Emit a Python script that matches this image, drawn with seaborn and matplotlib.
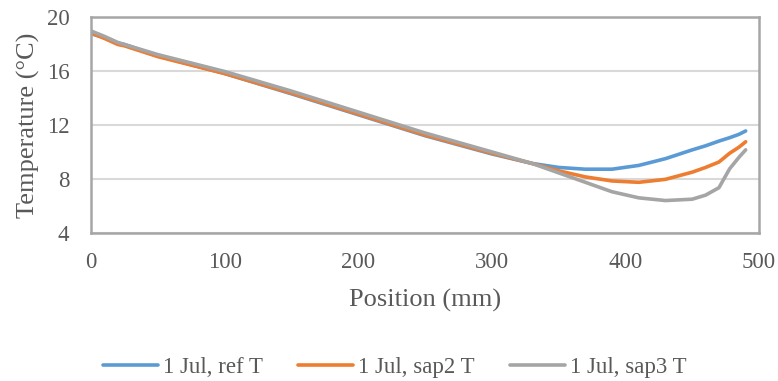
import numpy as np
import pandas as pd
import matplotlib
matplotlib.use("Agg")
import matplotlib.pyplot as plt
import seaborn as sns

position_mm = [0, 10, 20, 25, 50, 100, 150, 200, 250, 300, 330, 350, 370, 390,
               410, 430, 450, 460, 470, 478, 485, 490]
ref_T = [18.75, 18.45, 18.05, 17.95, 17.1, 15.8, 14.3, 12.75, 11.2, 9.85, 9.15,
         8.85, 8.72, 8.72, 9.0, 9.5, 10.15, 10.45, 10.8, 11.05, 11.3, 11.55]
sap2_T = [18.8, 18.4, 17.95, 17.85, 17.05, 15.8, 14.35, 12.8, 11.25, 9.9, 9.15,
          8.6, 8.15, 7.85, 7.75, 7.97, 8.5, 8.85, 9.25, 9.9, 10.35, 10.75]
sap3_T = [18.95, 18.55, 18.1, 17.95, 17.2, 15.95, 14.5, 12.95, 11.4, 10.0, 9.15,
          8.45, 7.75, 7.05, 6.6, 6.4, 6.5, 6.8, 7.35, 8.75, 9.6, 10.15]
series_names = ["1 Jul, ref T", "1 Jul, sap2 T", "1 Jul, sap3 T"]
colors = ["#5B9BD5", "#ED7D31", "#A5A5A5"]
x_ticks = [0, 100, 200, 300, 400, 500]
y_ticks = [4, 8, 12, 16, 20]

df = pd.concat([
    pd.DataFrame({"Position": position_mm, "T": vals, "Series": name})
    for name, vals in zip(series_names, [ref_T, sap2_T, sap3_T])
])

sns.set_style("white")
plt.rcParams["font.family"] = ["Liberation Serif", "DejaVu Serif"]

fig = plt.figure(figsize=(7.78, 3.81), dpi=100)
ax = fig.add_axes([0.117, 0.3885, 0.8586, 0.5675])

sns.lineplot(data=df, x="Position", y="T", hue="Series", palette=colors,
             linewidth=2.6, ax=ax, sort=False)

ax.set_xlim(0, 500)
ax.set_ylim(4, 20)
ax.set_xticks(x_ticks)
ax.set_yticks(y_ticks)
ax.tick_params(axis="x", length=0, labelsize=16.5, colors="#595959", pad=14)
ax.tick_params(axis="y", length=0, labelsize=16.5, colors="#595959", pad=15.5)
ax.yaxis.grid(True, color="#D9D9D9", linewidth=1.5)
ax.xaxis.grid(False)
for s in ax.spines.values():
    s.set_visible(True)
    s.set_color("#A6A6A6")
    s.set_linewidth(1.8)
ax.set_axisbelow(True)

ax.set_xlabel("Position (mm)", fontsize=19, color="#595959")
ax.set_ylabel("Temperature (°C)", fontsize=19, color="#595959")
ax.xaxis.label.set_va("center")
ax.yaxis.label.set_va("center")
ax.xaxis.set_label_coords(0.5, -0.31)
ax.yaxis.set_label_coords(-0.094, 0.5)

handles, labels = ax.get_legend_handles_labels()
ax.legend(handles, labels, loc="center", bbox_to_anchor=(0.4545, -0.622),
          ncol=3, frameon=False, fontsize=16.5, handlelength=2.4,
          handletextpad=0.2, columnspacing=1.55, labelcolor="#595959",
          borderpad=0.2)

fig.savefig("out.png", dpi=100)
